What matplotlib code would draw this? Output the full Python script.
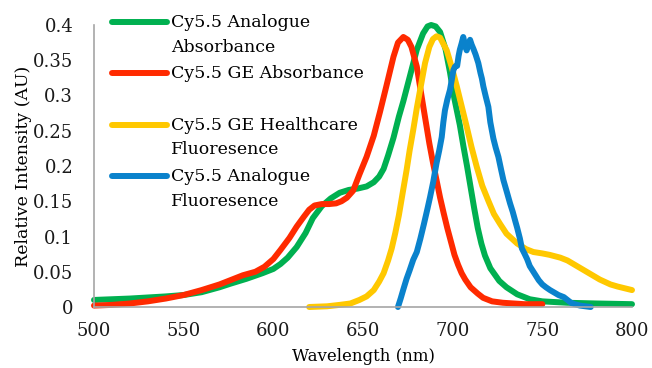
import numpy as np
import matplotlib
matplotlib.use("Agg")
import matplotlib.pyplot as plt
from matplotlib.legend_handler import HandlerLine2D

# ---- data ----
green_x = [500, 520, 540, 550, 560, 570, 576, 585, 594, 600, 604, 608, 613, 618, 622, 627, 632, 637, 642, 647,
           652, 656, 659, 661.5, 664, 667, 670, 672.5, 676, 680, 683.5, 686, 688, 690.5, 693, 696, 698.5, 701,
           704, 706, 708, 710, 712, 714, 716, 718, 721, 726, 730, 736, 743, 750, 764, 780, 800]
green_y = [0.010, 0.012, 0.015, 0.017, 0.021, 0.028, 0.033, 0.040, 0.048, 0.054, 0.061, 0.070, 0.085, 0.105,
           0.126, 0.143, 0.154, 0.162, 0.166, 0.168, 0.171, 0.177, 0.185, 0.196, 0.215, 0.240, 0.270, 0.292,
           0.326, 0.365, 0.388, 0.398, 0.400, 0.398, 0.390, 0.366, 0.333, 0.295, 0.258, 0.228, 0.200, 0.170,
           0.140, 0.112, 0.090, 0.073, 0.055, 0.037, 0.028, 0.018, 0.011, 0.008, 0.006, 0.005, 0.004]

red_x = [500, 510, 520, 530, 540, 550, 560, 570, 576, 583, 590, 595, 600, 604, 609, 613, 617, 620, 623, 627,
         631, 635, 638, 641, 644.5, 648, 652, 656, 659.5, 663, 667, 669.5, 672.5, 675, 677, 680, 683.5, 687,
         689, 691, 693, 695, 697, 699, 701, 703, 705, 707, 710, 714, 717, 722, 728, 740, 750]
red_y = [0.002, 0.003, 0.005, 0.008, 0.012, 0.017, 0.024, 0.032, 0.038, 0.045, 0.050, 0.057, 0.068, 0.081,
         0.098, 0.114, 0.128, 0.138, 0.144, 0.146, 0.146, 0.147, 0.150, 0.155, 0.165, 0.188, 0.213, 0.243,
         0.277, 0.313, 0.355, 0.375, 0.383, 0.379, 0.369, 0.341, 0.286, 0.232, 0.205, 0.180, 0.155, 0.133,
         0.112, 0.093, 0.074, 0.060, 0.048, 0.039, 0.028, 0.019, 0.013, 0.008, 0.006, 0.004, 0.004]

yellow_x = [620, 630, 637, 643, 648, 652, 656, 659, 661.5, 664, 666, 668, 670, 672, 674.3, 676, 678, 680, 682,
            684.6, 687, 689, 691, 693, 696.7, 699.5, 702.3, 705, 707.8, 710.5, 713.4, 716.5, 720, 723, 726.4,
            730, 736, 741, 745, 750, 754, 760, 764, 770, 776, 782, 788, 792, 800]
yellow_y = [0.000, 0.001, 0.003, 0.005, 0.010, 0.015, 0.024, 0.036, 0.048, 0.066, 0.083, 0.105, 0.130, 0.160,
            0.194, 0.222, 0.251, 0.282, 0.310, 0.346, 0.369, 0.380, 0.384, 0.382, 0.364, 0.340, 0.313, 0.285,
            0.256, 0.227, 0.199, 0.172, 0.150, 0.132, 0.118, 0.104, 0.090, 0.082, 0.078, 0.076, 0.074, 0.070,
            0.066, 0.057, 0.048, 0.039, 0.032, 0.029, 0.024]

blue_x = [669.5, 671, 672.5, 674.3, 676, 678, 680, 682, 684, 686, 687.4, 689.2, 691, 692.5, 693.9, 694.8, 695.7,
          697, 698.5, 699.5, 700.4, 701.3, 702.5, 703.3, 704, 705, 705.9, 706.8, 707.8, 708.7, 709.7, 710.6,
          711.6, 712.8, 714.3, 715.5, 716.3, 717.1, 718.5, 719.9, 721, 722.7, 724, 725.5, 727, 728.3, 730, 732,
          733.5, 735, 736, 737.5, 738.6, 740, 741.5, 743, 745, 746.5, 748, 750, 752, 754.3, 757, 759, 762, 764,
          766, 768, 771, 774, 777]
blue_y = [0.000, 0.012, 0.025, 0.040, 0.052, 0.067, 0.078, 0.097, 0.118, 0.140, 0.156, 0.178, 0.204, 0.222,
          0.241, 0.262, 0.279, 0.294, 0.308, 0.322, 0.336, 0.341, 0.342, 0.356, 0.365, 0.374, 0.383, 0.372,
          0.364, 0.372, 0.379, 0.372, 0.366, 0.358, 0.346, 0.332, 0.324, 0.313, 0.298, 0.284, 0.262, 0.239,
          0.226, 0.213, 0.195, 0.180, 0.165, 0.147, 0.135, 0.121, 0.112, 0.097, 0.083, 0.076, 0.068, 0.058,
          0.050, 0.044, 0.038, 0.032, 0.028, 0.024, 0.020, 0.017, 0.014, 0.010, 0.006, 0.004, 0.002, 0.001,
          0.000]

labels = ["Cy5.5 Analogue\nAbsorbance", "Cy5.5 GE Absorbance\n ",
          "Cy5.5 GE Healthcare\nFluoresence", "Cy5.5 Analogue\nFluoresence"]
colors = ["#00B050", "#FF2A00", "#FFC800", "#0A82CC"]
x_ticks = [500, 550, 600, 650, 700, 750, 800]
y_ticks = [0, 0.05, 0.1, 0.15, 0.2, 0.25, 0.3, 0.35, 0.4]
y_ticklabels = ["0", "0.05", "0.1", "0.15", "0.2", "0.25", "0.3", "0.35", "0.4"]

FS = 12.5
plt.rcParams['font.family'] = ['DejaVu Serif']

fig = plt.figure(figsize=(6.52, 3.68), dpi=100)
W, H = 652, 368
ax = fig.add_axes([94 / W, 1 - 307 / H, (632 - 94) / W, (307 - 25) / H])

series = [(green_x, green_y), (red_x, red_y), (yellow_x, yellow_y), (blue_x, blue_y)]
lines = []
for (xs, ys), c, lab in zip(series, colors, labels):
    ln, = ax.plot(xs, ys, color=c, lw=4.3, solid_capstyle='round', solid_joinstyle='round', label=lab,
                  clip_on=False)
    lines.append(ln)

ax.set_xlim(500, 800)
ax.set_ylim(0, 0.4)
ax.set_xticks(x_ticks)
ax.set_yticks(y_ticks)
ax.set_yticklabels(y_ticklabels)
ax.tick_params(axis='both', length=0, labelsize=13, colors='#1a1a1a')
ax.tick_params(axis='y', pad=15)
ax.tick_params(axis='x', pad=11)
for s in ['top', 'right']:
    ax.spines[s].set_visible(False)
for s in ['left', 'bottom']:
    ax.spines[s].set_color('#A6A6A6')
    ax.spines[s].set_linewidth(1.2)
ax.set_xlabel("Wavelength (nm)", fontsize=12, labelpad=5.5)
ax.set_ylabel("Relative Intensity (AU)", fontsize=FS, labelpad=1)


class FirstLineHandler(HandlerLine2D):
    def __init__(self, yshift, **kw):
        super().__init__(**kw)
        self.yshift = yshift

    def create_artists(self, legend, orig_handle, xdescent, ydescent, width, height, fontsize, trans):
        arts = super().create_artists(legend, orig_handle, xdescent, ydescent, width, height, fontsize, trans)
        for a in arts:
            a.set_ydata(np.asarray(a.get_ydata(), dtype=float) + self.yshift)
        return arts


hmap = {ln: FirstLineHandler(9.5) for ln in lines}
leg = ax.legend(handles=lines, labels=labels, loc='upper left', bbox_to_anchor=(112 / W, 1 - 14 / H),
                bbox_transform=fig.transFigure, frameon=False, fontsize=FS, borderpad=0, borderaxespad=0,
                handlelength=3.15, handletextpad=0.25, labelspacing=0.55, handler_map=hmap)
for t in leg.get_texts():
    t.set_linespacing(1.6)

fig.savefig("out.png", dpi=100)
